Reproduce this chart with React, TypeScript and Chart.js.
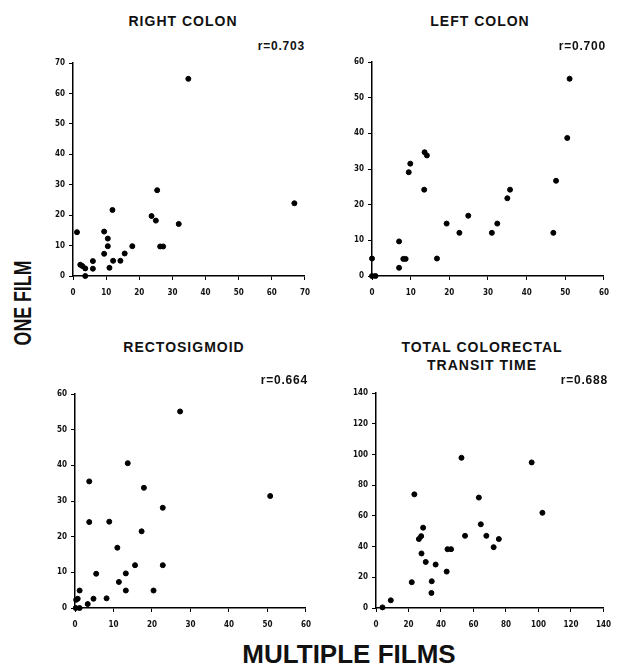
import React, { useEffect, useRef } from "react";
import { Chart, registerables } from "chart.js";

Chart.register(...registerables);

// ---------- data ----------
const rightColonX = [1.2, 2.2, 2.8, 3.7, 3.7, 6, 6, 9.4, 9.4, 10.5, 10.5, 11, 11.9, 12.1, 14.3, 15.6, 17.9, 23.7, 25, 25.4, 26.3, 27.2, 31.9, 34.8, 66.8];
const rightColonY = [14.4, 3.7, 3.3, 2.5, 0, 4.9, 2.4, 14.6, 7.3, 12.3, 9.8, 2.7, 21.7, 5, 5, 7.4, 9.8, 19.7, 18.2, 28.2, 9.7, 9.7, 17.1, 64.8, 23.9];

const leftColonX = [0, 0, 0.9, 7.0, 7.0, 8.1, 8.7, 9.5, 9.9, 13.5, 13.6, 14.2, 16.8, 19.3, 22.6, 24.9, 31, 32.4, 35, 35.7, 46.9, 47.6, 50.5, 51.1];
const leftColonY = [4.9, 0, 0, 9.7, 2.3, 4.8, 4.8, 29.1, 31.5, 24.2, 34.7, 33.8, 4.9, 14.7, 12.1, 16.9, 12.1, 14.7, 21.8, 24.2, 12.1, 26.7, 38.7, 55.3];

const rectoX = [0.2, 0.3, 0.7, 1.2, 1.2, 3.3, 3.7, 3.7, 4.8, 5.5, 8.2, 8.9, 11, 11.4, 13.2, 13.2, 13.7, 15.6, 17.3, 17.9, 20.4, 22.8, 22.8, 27.3, 50.7];
const rectoY = [0, 2.3, 2.6, 4.9, 0, 1.1, 35.5, 24.1, 2.6, 9.6, 2.7, 24.2, 16.9, 7.3, 4.9, 9.7, 40.6, 12, 21.5, 33.7, 4.9, 28.1, 12, 55.1, 31.4];

const totalX = [4, 9.1, 22, 23.6, 26.4, 27.8, 29, 28, 30.6, 34.3, 34.1, 36.7, 43.5, 44, 46.2, 52.6, 54.8, 63.3, 64.5, 67.9, 72.4, 75.6, 95.8, 102.4];
const totalY = [0.4, 5, 16.8, 74, 44.9, 46.8, 52.3, 35.5, 30, 17.4, 9.8, 28.3, 23.7, 38.3, 38.3, 97.8, 47, 71.9, 54.5, 47, 39.6, 44.9, 94.8, 62];

const panelTitles = ["RIGHT COLON", "LEFT COLON", "RECTOSIGMOID", "TOTAL COLORECTAL\nTRANSIT TIME"];
const rValues = ["r=0.703", "r=0.700", "r=0.664", "r=0.688"];
const axisMax = [70, 60, 60, 140];
const axisStep = [10, 10, 10, 20];
const yAxisLabel = "ONE FILM";
const xAxisLabel = "MULTIPLE FILMS";

const tickFont = { family: "'Liberation Sans Narrow', 'DejaVu Sans Condensed', 'DejaVu Sans', sans-serif", size: 8, weight: "bold" as const };

type PanelProps = {
  xs: number[];
  ys: number[];
  max: number;
  step: number;
  left: number;
  top: number;
  width: number;
  height: number;
};

function Panel({ xs, ys, max, step, left, top, width, height }: PanelProps) {
  const ref = useRef<HTMLCanvasElement | null>(null);
  useEffect(() => {
    if (!ref.current) return;
    const data = xs.map((x, i) => ({ x, y: ys[i] }));
    const axisCommon = {
      type: "linear" as const,
      min: 0,
      max,
      grid: { display: true, drawOnChartArea: false, drawTicks: true, tickLength: 4, color: "#000", lineWidth: 1 },
      border: { display: true, color: "#000", width: 1.5 },
    };
    const chart = new Chart(ref.current, {
      type: "scatter",
      data: {
        datasets: [
          {
            data,
            backgroundColor: "#000",
            borderColor: "#000",
            pointRadius: 2.5,
            pointHoverRadius: 2.5,
            pointStyle: "circle",
            clip: false as any,
          },
        ],
      },
      options: {
        animation: false,
        responsive: false,
        devicePixelRatio: 1,
        layout: { padding: { top: 10, right: 12, left: 0, bottom: 0 } },
        plugins: { legend: { display: false }, tooltip: { enabled: false }, title: { display: false } },
        scales: {
          x: {
            ...axisCommon,
            ticks: { stepSize: step, color: "#111", font: tickFont, padding: 8, maxRotation: 0 },
            afterFit: (s: any) => {
              s.height = 30;
            },
          },
          y: {
            ...axisCommon,
            ticks: { stepSize: step, color: "#111", font: tickFont, padding: 4 },
            afterFit: (s: any) => {
              s.width = 30;
            },
          },
        },
      },
    });
    return () => chart.destroy();
  }, [xs, ys, max, step]);
  return (
    <canvas
      ref={ref}
      width={width}
      height={height}
      style={{ position: "absolute", left, top, width, height }}
    />
  );
}

const titleStyle: React.CSSProperties = {
  position: "absolute",
  fontFamily: "'Liberation Sans', Arial, sans-serif",
  fontWeight: "bold",
  fontSize: 14,
  letterSpacing: 1,
  color: "#111",
  textAlign: "center",
  whiteSpace: "pre",
  lineHeight: "18px",
  transform: "translateX(-50%)",
};

const rStyle: React.CSSProperties = {
  position: "absolute",
  fontFamily: "'Liberation Sans', Arial, sans-serif",
  fontWeight: "bold",
  fontSize: 12,
  letterSpacing: 0.8,
  color: "#111",
  textAlign: "right",
  transform: "translateX(-100%)",
  whiteSpace: "pre",
  lineHeight: "12px",
};

export default function App() {
  const rects = [
    { left: 43, top: 53, width: 275, height: 253 },
    { left: 342, top: 52, width: 275, height: 254 },
    { left: 45, top: 384, width: 274, height: 254 },
    { left: 346, top: 383, width: 273, height: 255 },
  ];
  const series = [
    [rightColonX, rightColonY],
    [leftColonX, leftColonY],
    [rectoX, rectoY],
    [totalX, totalY],
  ];
  const titlePos = [
    { x: 183, y: 12 },
    { x: 480, y: 12 },
    { x: 184, y: 338 },
    { x: 482, y: 338 },
  ];
  const rPos = [
    { x: 305, y: 40 },
    { x: 606, y: 40 },
    { x: 308, y: 374 },
    { x: 608, y: 374 },
  ];
  return (
    <div style={{ position: "absolute", left: 0, top: 0, width: 621, height: 666, background: "#fff", overflow: "hidden" }}>
      {rects.map((r, i) => (
        <Panel key={i} xs={series[i][0]} ys={series[i][1]} max={axisMax[i]} step={axisStep[i]} {...r} />
      ))}
      {panelTitles.map((t, i) => (
        <div key={"t" + i} style={{ ...titleStyle, left: titlePos[i].x, top: titlePos[i].y }}>
          {t}
        </div>
      ))}
      {rValues.map((t, i) => (
        <div key={"r" + i} style={{ ...rStyle, left: rPos[i].x, top: rPos[i].y }}>
          {t}
        </div>
      ))}
      <div
        style={{
          position: "absolute",
          left: 23,
          top: 303,
          fontFamily: "'Liberation Sans', Arial, sans-serif",
          fontWeight: "bold",
          fontSize: 24,
          color: "#111",
          whiteSpace: "nowrap",
          lineHeight: "24px",
          transform: "translate(-50%, -50%) rotate(-90deg) scaleX(0.74)",
        }}
      >
        {yAxisLabel}
      </div>
      <div
        style={{
          position: "absolute",
          left: 349,
          top: 654,
          fontFamily: "'Liberation Sans', Arial, sans-serif",
          fontWeight: "bold",
          fontSize: 26,
          color: "#111",
          whiteSpace: "nowrap",
          lineHeight: "26px",
          transform: "translate(-50%, -50%)",
        }}
      >
        {xAxisLabel}
      </div>
    </div>
  );
}
